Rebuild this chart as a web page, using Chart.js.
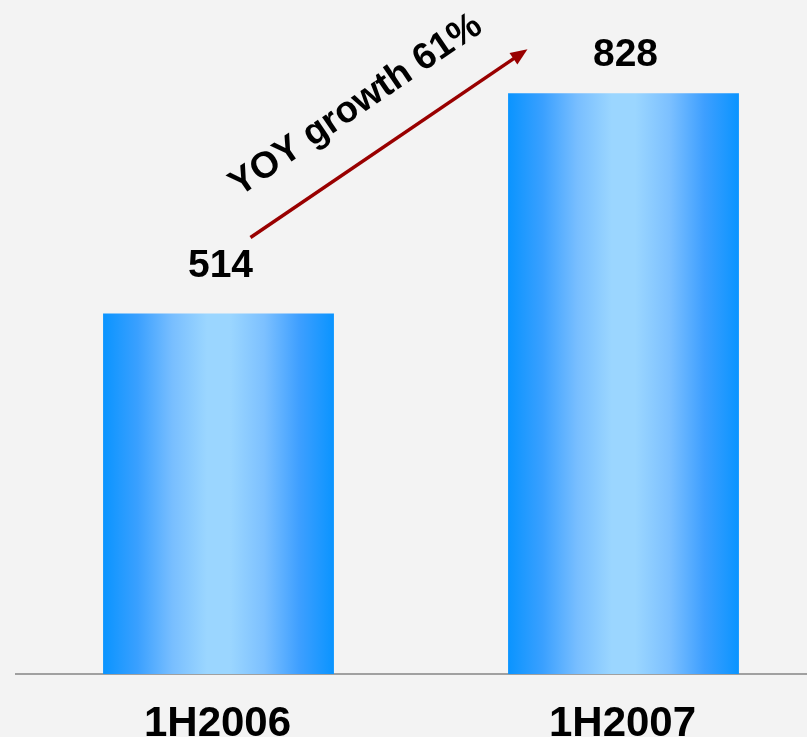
<!DOCTYPE html>
<html lang="en">
<head>
  <meta charset="UTF-8" />
  <title>YOY growth</title>
  <style>
    html, body {
      margin: 0; padding: 0;
      background: #f3f3f3;
      width: 807px; height: 737px; overflow: hidden;
      font-family: 'Liberation Sans', Arial, sans-serif;
    }
    /* chart area runs a bit past the right edge, like the original slide */
    #wrap { width: 830px; height: 737px; position: relative; }
  </style>
  <script src="https://cdn.jsdelivr.net/npm/chart.js"></script>
</head>
<body>
  <div id="wrap"><canvas id="growthChart"></canvas></div>

  <script>
    // ─── data ─────────────────────────────
    const periods = ['1H2006', '1H2007'];
    const values  = [514, 828];
    const growthLabel = 'YOY growth 61%';

    const FONT = "'Liberation Sans', Arial, sans-serif";

    // horizontal "cylinder" gradient across a bar
    function barGradient(c) {
      const chart = c.chart;
      const xs = chart.scales.x;
      if (!xs || !chart.chartArea) return '#2a9dff';
      const cx = xs.getPixelForValue(c.dataIndex);
      const half = (chart.chartArea.width / periods.length) * 0.57 / 2;
      const g = chart.ctx.createLinearGradient(cx - half, 0, cx + half, 0);
      g.addColorStop(0.00, '#0a94ff');
      g.addColorStop(0.15, '#3aa0ff');
      g.addColorStop(0.30, '#78beff');
      g.addColorStop(0.45, '#9bd6ff');
      g.addColorStop(0.55, '#9bd6ff');
      g.addColorStop(0.70, '#7cc0ff');
      g.addColorStop(0.85, '#3e9fff');
      g.addColorStop(1.00, '#0a94ff');
      return g;
    }

    // value labels, category labels and the growth arrow
    const decorations = {
      id: 'decorations',
      afterDatasetsDraw(chart) {
        const { ctx, chartArea } = chart;
        const xs = chart.scales.x, ys = chart.scales.y;
        ctx.save();
        ctx.fillStyle = '#000';
        ctx.textAlign = 'center';

        // values above bars
        ctx.font = 'bold 39px ' + FONT;
        ctx.textBaseline = 'middle';
        const offs = [47, 38];
        values.forEach((v, i) => {
          ctx.fillText(String(v), xs.getPixelForValue(i) + 2, ys.getPixelForValue(v) - offs[i]);
        });

        // category labels under the axis
        ctx.font = 'bold 42px ' + FONT;
        ctx.textBaseline = 'alphabetic';
        periods.forEach((p, i) => {
          ctx.fillText(p, xs.getPixelForValue(i) - 1, chartArea.bottom + 62);
        });

        // arrow from first value to second
        const x0 = xs.getPixelForValue(0) + 32, y0 = ys.getPixelForValue(values[0]) - 76;
        const x1 = xs.getPixelForValue(1) - 96, y1 = ys.getPixelForValue(values[1]) - 44;
        const ang = Math.atan2(y1 - y0, x1 - x0);
        const head = 17;
        ctx.strokeStyle = '#990000';
        ctx.fillStyle = '#990000';
        ctx.lineWidth = 3.5;
        ctx.beginPath();
        ctx.moveTo(x0, y0);
        ctx.lineTo(x1 - Math.cos(ang) * head * 0.8, y1 - Math.sin(ang) * head * 0.8);
        ctx.stroke();
        ctx.beginPath();
        ctx.moveTo(x1, y1);
        ctx.lineTo(x1 - head * Math.cos(ang) + 7 * Math.sin(ang), y1 - head * Math.sin(ang) - 7 * Math.cos(ang));
        ctx.lineTo(x1 - head * Math.cos(ang) - 7 * Math.sin(ang), y1 - head * Math.sin(ang) + 7 * Math.cos(ang));
        ctx.closePath();
        ctx.fill();

        // rotated growth text, sitting above the arrow
        const ux = Math.cos(ang), uy = Math.sin(ang);
        const nx = uy, ny = -ux;  // normal pointing up-left
        const mx = (x0 + x1) / 2, my = (y0 + y1) / 2;
        const tx = mx + nx * 50 - ux * 6, ty = my + ny * 50 - uy * 6;
        ctx.translate(tx, ty);
        ctx.rotate(ang);
        ctx.fillStyle = '#000';
        ctx.font = 'bold 37px ' + FONT;
        ctx.textBaseline = 'middle';
        ctx.fillText(growthLabel, 0, 0);
        ctx.restore();
      }
    };

    new Chart(document.getElementById('growthChart'), {
      type: 'bar',
      data: {
        labels: periods,
        datasets: [{
          data: values,
          backgroundColor: barGradient,
          borderWidth: 0,
          barPercentage: 0.57,
          categoryPercentage: 1.0
        }]
      },
      options: {
        responsive: true,
        maintainAspectRatio: false,
        animation: false,
        layout: { padding: { left: 16, right: 4, top: 0, bottom: 55 } },
        scales: {
          x: {
            grid: { display: false },
            ticks: { display: false },
            border: { display: true, color: '#a0a0a0', width: 2 }
          },
          y: {
            display: false,
            min: 0,
            max: 961
          }
        },
        plugins: { legend: { display: false }, tooltip: { enabled: false } }
      },
      plugins: [decorations]
    });
  </script>
</body>
</html>
